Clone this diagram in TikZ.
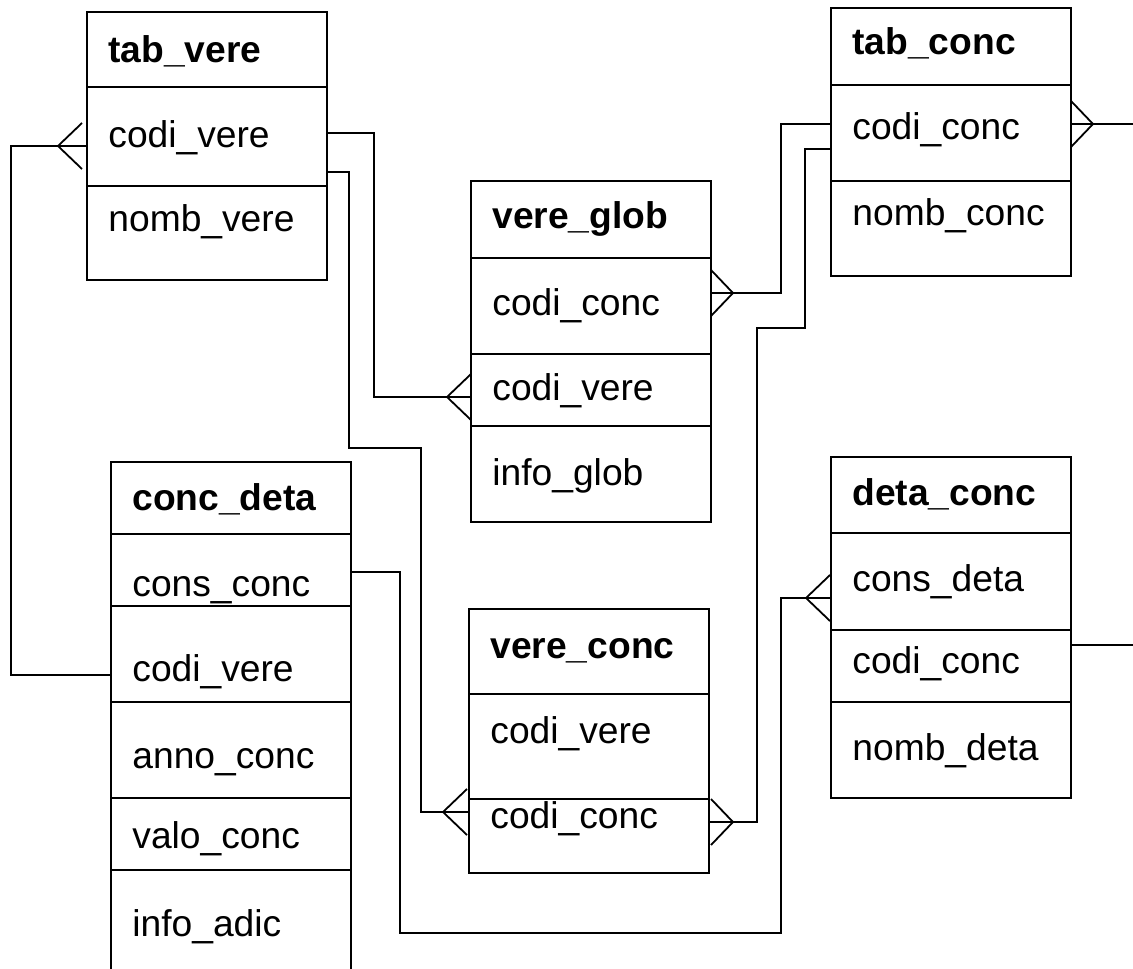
\documentclass[tikz,border=0pt]{standalone}
\usepackage{fontspec}
\setmainfont{Liberation Sans}
\usetikzlibrary{positioning}

\tikzset{
  row/.style={draw, line width=0.9pt, minimum width=120pt, inner sep=0pt, outer sep=0pt},
  fld/.style={anchor=base west, inner sep=0pt, font=\fontsize{18.6}{22}\selectfont},
  hdr/.style={fld, font=\fontsize{18.6}{22}\selectfont\bfseries},
  lnk/.style={line width=0.9pt}
}
% crow's foot, toes to the right / to the left of the apex
\newcommand{\crowR}[1]{\draw[lnk] (#1) -- ++(24,-23) (#1) -- ++(24,23);}
\newcommand{\crowL}[1]{\draw[lnk] (#1) -- ++(-22,-23) (#1) -- ++(-22,23);}

\begin{document}
\begin{tikzpicture}[x=0.5pt, y=-0.5pt]
\useasboundingbox (0,0) rectangle (1133,968);

% tab_vere
\node[row, anchor=north west, minimum height=37.5pt] (tv-h) at (87,12) {};
\node[row, minimum height=49.5pt, below=0pt of tv-h] (tv-1) {};
\node[row, minimum height=47pt, below=0pt of tv-1] (tv-2) {};
\node[hdr] (tv-t0) at (108,63) {tab\_vere};
\node[fld] (tv-t1) at (108,148) {codi\_vere};
\node[fld] (tv-t2) at (108,231) {nomb\_vere};

% tab_conc
\node[row, anchor=north west, minimum height=38.5pt] (tc-h) at (831,8) {};
\node[row, minimum height=48pt, below=0pt of tc-h] (tc-1) {};
\node[row, minimum height=47.5pt, below=0pt of tc-1] (tc-2) {};
\node[hdr] (tc-t0) at (852,55) {tab\_conc};
\node[fld] (tc-t1) at (852,140) {codi\_conc};
\node[fld] (tc-t2) at (852,226) {nomb\_conc};

% vere_glob
\node[row, anchor=north west, minimum height=38.5pt] (vg-h) at (471,181) {};
\node[row, minimum height=48pt, below=0pt of vg-h] (vg-1) {};
\node[row, minimum height=36pt, below=0pt of vg-1] (vg-2) {};
\node[row, minimum height=48pt, below=0pt of vg-2] (vg-3) {};
\node[hdr] (vg-t0) at (492,228) {vere\_glob};
\node[fld] (vg-t1) at (492,315) {codi\_conc};
\node[fld] (vg-t2) at (492,400) {codi\_vere};
\node[fld] (vg-t3) at (492,485) {info\_glob};

% conc_deta
\node[row, anchor=north west, minimum height=36pt] (cd-h) at (111,462) {};
\node[row, minimum height=36pt, below=0pt of cd-h] (cd-1) {};
\node[row, minimum height=48pt, below=0pt of cd-1] (cd-2) {};
\node[row, minimum height=48pt, below=0pt of cd-2] (cd-3) {};
\node[row, minimum height=36pt, below=0pt of cd-3] (cd-4) {};
\node[row, minimum height=55pt, below=0pt of cd-4] (cd-5) {};
\node[hdr] (cd-t0) at (132,510) {conc\_deta};
\node[fld] (cd-t1) at (132,596) {cons\_conc};
\node[fld] (cd-t2) at (132,681) {codi\_vere};
\node[fld] (cd-t3) at (132,768) {anno\_conc};
\node[fld] (cd-t4) at (132,848) {valo\_conc};
\node[fld] (cd-t5) at (132,936) {info\_adic};

% vere_conc
\node[row, anchor=north west, minimum height=42.5pt] (vc-h) at (469,609) {};
\node[row, minimum height=52.5pt, below=0pt of vc-h] (vc-1) {};
\node[row, minimum height=37pt, below=0pt of vc-1] (vc-2) {};
\node[hdr] (vc-t0) at (490,658) {vere\_conc};
\node[fld] (vc-t1) at (490,743) {codi\_vere};
\node[fld] (vc-t2) at (490,828) {codi\_conc};

% deta_conc
\node[row, anchor=north west, minimum height=38pt] (dc-h) at (831,457) {};
\node[row, minimum height=48.5pt, below=0pt of dc-h] (dc-1) {};
\node[row, minimum height=36pt, below=0pt of dc-1] (dc-2) {};
\node[row, minimum height=48pt, below=0pt of dc-2] (dc-3) {};
\node[hdr] (dc-t0) at (852,505) {deta\_conc};
\node[fld] (dc-t1) at (852,591) {cons\_deta};
\node[fld] (dc-t2) at (852,673) {codi\_conc};
\node[fld] (dc-t3) at (852,760) {nomb\_deta};

% crow's feet apexes and loose ends
\coordinate (fa) at (58,146);
\coordinate (fb) at (447,397);
\coordinate (fc) at (443,812);
\coordinate (fd) at (733,293);
\coordinate (fe) at (733,822);
\coordinate (ff) at (1093,124);
\coordinate (fh) at (806,598);
\coordinate (out1) at (1140,124);
\coordinate (out2) at (1140,645);

% links
\draw[lnk] (tv-1.west |- fa) -- (11,146) |- (cd-2.west |- 0,675);
\crowR{fa}
\draw[lnk] (tv-1.east |- 0,133) -| (374,397) -- (vg-2.west |- fb);
\crowR{fb}
\draw[lnk] (tv-1.east |- 0,172) -| (349,448) -| (421,812) -- (vc-2.west |- fc);
\crowR{fc}
\draw[lnk] (vg-1.east |- fd) -| (781,124) -- (tc-1.west |- 0,124);
\crowL{fd}
\draw[lnk] (tc-1.west |- 0,149) -| (805,328) -| (757,822) -- (vc-2.east |- fe);
\crowL{fe}
\draw[lnk] (tc-1.east |- ff) -- (out1);
\crowL{ff}
\draw[lnk] (dc-2.east |- out2) -- (out2);
\draw[lnk] (cd-1.east |- 0,572) -| (400,933) -| (781,598) -- (dc-1.west |- fh);
\crowR{fh}
\end{tikzpicture}
\end{document}
